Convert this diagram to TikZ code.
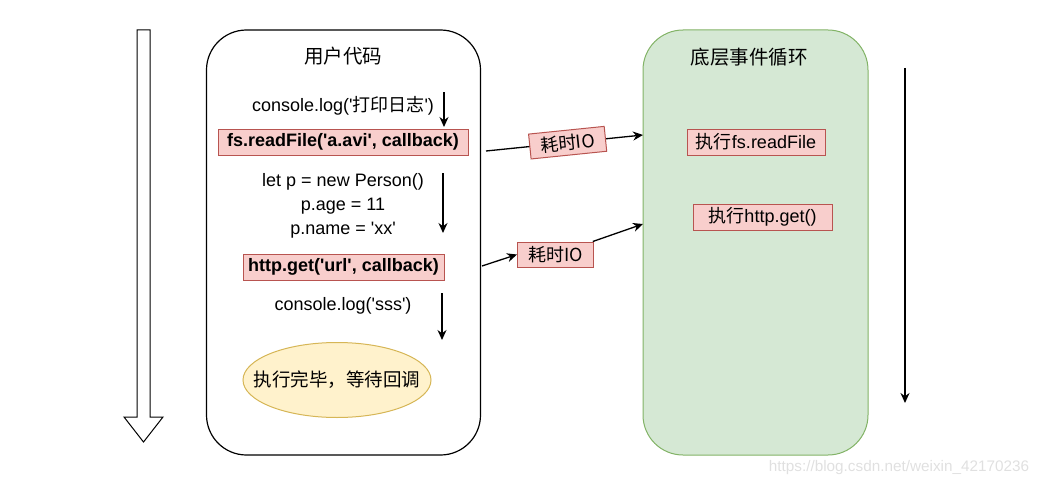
\documentclass[tikz,border=0pt]{standalone}
\usepackage{fontspec}
\setmainfont{Liberation Sans}
\newfontfamily\cjk{Noto Sans CJK SC}
\usetikzlibrary{arrows.meta,shapes.geometric}
\definecolor{redfill}{HTML}{F8CECC}
\definecolor{redline}{HTML}{B85450}
\definecolor{greenfill}{HTML}{D5E8D4}
\definecolor{greenline}{HTML}{82B366}
\definecolor{yellowfill}{HTML}{FFF2CC}
\definecolor{yellowline}{HTML}{D6B656}
\newcommand\sq{\textquotesingle}
\tikzset{
  code/.style={font=\fontsize{18}{24}\selectfont, align=center, inner sep=0},
  title/.style={font=\cjk\fontsize{19.5}{22}\selectfont, inner sep=0},
  callbox/.style={draw=redline, fill=redfill, line width=1, inner sep=0,
    minimum height=26, font=\bfseries\fontsize{18}{22}\selectfont},
  runbox/.style={draw=redline, fill=redfill, line width=1, inner sep=0,
    minimum height=26, font=\fontsize{18}{22}\selectfont},
  iobox/.style={draw=redline, fill=redfill, line width=1, inner sep=0,
    minimum width=76, minimum height=25, font=\cjk\fontsize{18}{22}\selectfont},
  flow/.style={line width=1.3, -{Stealth[length=10pt,width=9pt]}}
}
\begin{document}
\begin{tikzpicture}[x=1pt,y=-1pt]
  \useasboundingbox (0,0) rectangle (1044,487);
  % time axis on the left
  \draw[line width=1]
    (137,30) -- (150,30) -- (150,417) -- (163,417) -- (143.5,442)
    -- (124,417) -- (137,417) -- cycle;
  % user code
  \node[draw, line width=1.2, rounded corners=40, minimum width=274,
    minimum height=425] (user) at (343.5,242.5) {};
  \node[title] (usertitle) at (343,56) {用户代码};
  \node[code] (log1) at (343,106) {console.log(\sq{\cjk 打印日志}\sq)};
  \node[callbox, minimum width=250] (read) at (343,142)
    {fs.readFile(\sq a.avi\sq, callback)};
  \node[code] (person) at (343,206)
    {let p = new Person()\\p.age = 11\\p.name = \sq xx\sq};
  \node[callbox, minimum width=201] (http) at (343.5,267)
    {http.get(\sq url\sq, callback)};
  \node[code] (log2) at (343,306) {console.log(\sq sss\sq)};
  \node[ellipse, draw=yellowline, fill=yellowfill, line width=1,
    minimum width=188, minimum height=75, inner sep=0] (done) at (337,380) {};
  \node[font=\cjk\fontsize{18.5}{22}\selectfont, inner sep=0] (donetext)
    at (done) {执行完毕，等待回调};
  % event loop
  \node[draw=greenline, fill=greenfill, line width=1, rounded corners=40,
    minimum width=225, minimum height=425] (loop) at (755.5,242.5) {};
  \node[title] (looptitle) at (749,57) {底层事件循环};
  \node[runbox, minimum width=138] (runread) at (756,142)
    {{\cjk 执行}fs.readFile};
  \node[runbox, minimum width=139] (runhttp) at (762.5,217)
    {{\cjk 执行}http.get()};
  % free ends
  \coordinate (a1s) at (444,92);
  \coordinate (a1e) at (444,127);
  \coordinate (a2s) at (443,173);
  \coordinate (a2e) at (443,233);
  \coordinate (a3s) at (442,293);
  \coordinate (a3e) at (442,340);
  \coordinate (ls) at (905,68);
  \coordinate (le) at (905,403);
  \coordinate (io1s) at (486,151);
  \coordinate (io1e) at (643,135);
  \coordinate (io2s) at (482,266);
  \coordinate (io2e) at (643,224);
  \node[iobox] (io2) at (555.5,254.5) {耗时IO};
  \begin{scope}[flow]
    \draw (a1s) -- (a1e);
    \draw (a2s) -- (a2e);
    \draw (a3s) -- (a3e);
    \draw (ls) -- (le);
    \draw (io1s) -- node[iobox, sloped, pos=0.52] (io1) {耗时IO} (io1e);
    \draw (io2s) -- (io2.west);
    \draw (io2) -- (io2e);
  \end{scope}
  \node[font=\fontsize{15.3}{17}\selectfont, text=black!12, inner sep=0]
    (mark) at (899,468) {https://blog.csdn.net/weixin\_42170236};
\end{tikzpicture}
\end{document}
